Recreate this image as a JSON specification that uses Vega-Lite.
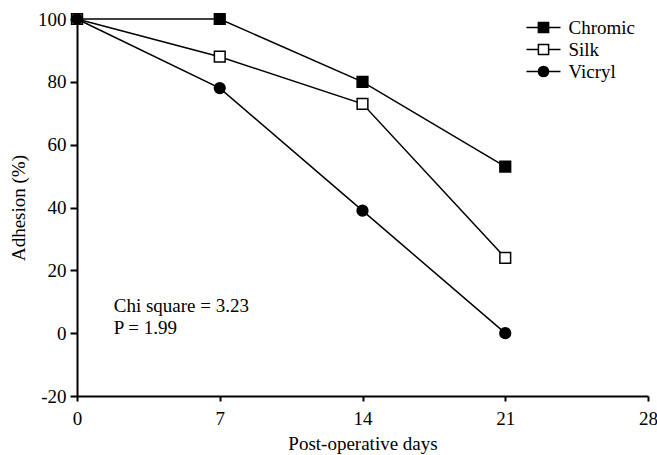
{
  "$schema": "https://vega.github.io/schema/vega-lite/v6.json",
  "width": 571,
  "height": 377,
  "autosize": {"type": "none"},
  "padding": {"left": 77, "top": 19, "right": 9, "bottom": 59},
  "background": "white",
  "config": {
    "view": {"stroke": null},
    "font": "Liberation Serif",
    "axis": {
      "grid": false,
      "domainColor": "black",
      "domainWidth": 2,
      "tickColor": "black",
      "tickWidth": 2,
      "labelColor": "black",
      "titleColor": "black",
      "labelFont": "Liberation Serif",
      "titleFont": "Liberation Serif",
      "labelFontSize": 19,
      "titleFontSize": 19,
      "titleFontWeight": "normal"
    }
  },
  "datasets": {
    "series": [
      {"day": 0, "adhesion": 100, "suture": "Chromic"},
      {"day": 7, "adhesion": 100, "suture": "Chromic"},
      {"day": 14, "adhesion": 80, "suture": "Chromic"},
      {"day": 21, "adhesion": 53, "suture": "Chromic"},
      {"day": 0, "adhesion": 100, "suture": "Silk"},
      {"day": 7, "adhesion": 88, "suture": "Silk"},
      {"day": 14, "adhesion": 73, "suture": "Silk"},
      {"day": 21, "adhesion": 24, "suture": "Silk"},
      {"day": 0, "adhesion": 100, "suture": "Vicryl"},
      {"day": 7, "adhesion": 78, "suture": "Vicryl"},
      {"day": 14, "adhesion": 39, "suture": "Vicryl"},
      {"day": 21, "adhesion": 0, "suture": "Vicryl"}
    ],
    "notes": [
      {"day": 1.8, "adhesion": 8.7, "text": "Chi square = 3.23"},
      {"day": 1.8, "adhesion": 1.8, "text": "P = 1.99"}
    ]
  },
  "resolve": {"scale": {"shape": "independent", "fill": "independent"}},
  "layer": [
    {
      "data": {"name": "series"},
      "mark": {"type": "line", "color": "black", "strokeWidth": 1.5},
      "encoding": {
        "x": {
          "field": "day", "type": "quantitative",
          "scale": {"domain": [0, 28], "nice": false},
          "axis": {"values": [0, 7, 14, 21, 28], "title": "Post-operative days", "tickSize": 5, "labelPadding": 8, "titlePadding": 6, "labelFlush": false}
        },
        "y": {
          "field": "adhesion", "type": "quantitative",
          "scale": {"domain": [-20, 100], "nice": false, "zero": false},
          "axis": {"values": [-20, 0, 20, 40, 60, 80, 100], "labelExpr": "'' + datum.value", "title": "Adhesion (%)", "tickSize": 7, "labelPadding": 4, "titlePadding": 9, "labelFlush": false}
        },
        "detail": {"field": "suture"}
      }
    },
    {
      "data": {"name": "series"},
      "mark": {"type": "point", "filled": true, "stroke": "black", "strokeWidth": 1.5, "size": 115, "opacity": 1},
      "encoding": {
        "x": {"field": "day", "type": "quantitative"},
        "y": {"field": "adhesion", "type": "quantitative"},
        "shape": {
          "field": "suture", "type": "nominal",
          "scale": {"domain": ["Chromic", "Silk", "Vicryl"], "range": ["square", "square", "circle"]},
          "legend": null
        },
        "fill": {
          "field": "suture", "type": "nominal",
          "scale": {"domain": ["Chromic", "Silk", "Vicryl"], "range": ["black", "white", "black"]},
          "legend": null
        }
      }
    },
    {
      "data": {"name": "series"},
      "transform": [{"filter": "false"}],
      "mark": {"type": "point", "filled": true, "stroke": "black", "strokeWidth": 1.5, "opacity": 1},
      "encoding": {
        "x": {"field": "day", "type": "quantitative"},
        "y": {"field": "adhesion", "type": "quantitative"},
        "shape": {
          "field": "suture", "type": "nominal",
          "scale": {"domain": ["Chromic", "Silk", "Vicryl"], "range": [
            "M-2,0H-0.6M0.6,0H2M-0.6,-0.6H0.6V0.6H-0.6Z",
            "M-2,0H-0.6M0.6,0H2M-0.6,-0.6H0.6V0.6H-0.6Z",
            "M-2,0H-0.6M0.6,0H2M0.6,0A0.6,0.6 0 1,1 -0.6,0A0.6,0.6 0 1,1 0.6,0Z"
          ]},
          "legend": {
            "title": null,
            "orient": "none",
            "legendX": 457,
            "legendY": -1,
            "labelFontSize": 19,
            "labelFont": "Liberation Serif",
            "labelColor": "black",
            "symbolSize": 289,
            "symbolOpacity": 1,
            "symbolStrokeWidth": 1.5,
            "rowPadding": 2,
            "labelOffset": 15.5
          }
        },
        "fill": {
          "field": "suture", "type": "nominal",
          "scale": {"domain": ["Chromic", "Silk", "Vicryl"], "range": ["black", "white", "black"]},
          "legend": null
        }
      }
    },
    {
      "data": {"name": "notes"},
      "mark": {"type": "text", "align": "left", "baseline": "middle", "fontSize": 19, "font": "Liberation Serif", "color": "black"},
      "encoding": {
        "x": {"field": "day", "type": "quantitative"},
        "y": {"field": "adhesion", "type": "quantitative"},
        "text": {"field": "text"}
      }
    }
  ]
}
